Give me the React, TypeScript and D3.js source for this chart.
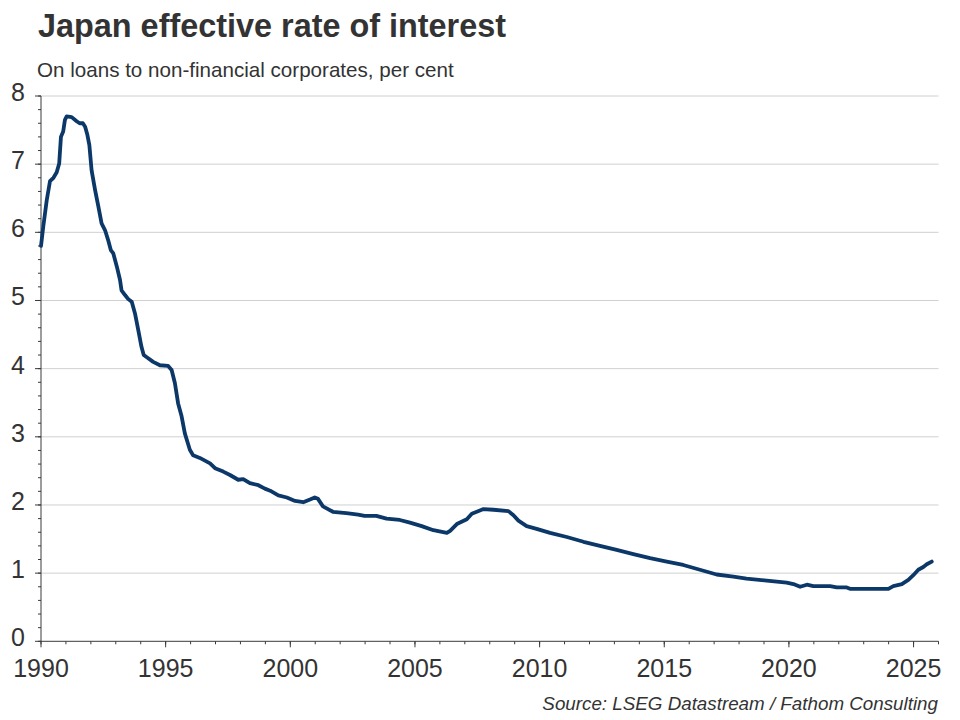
import React from "react";
import * as d3 from "d3";

const years: number[] = [
  1990.0, 1990.09, 1990.23, 1990.36, 1990.5, 1990.63, 1990.73, 1990.8, 1990.89, 1990.96,
  1991.03, 1991.23, 1991.43, 1991.55, 1991.68, 1991.77, 1991.86, 1991.94, 1992.03, 1992.17,
  1992.3, 1992.43, 1992.57, 1992.69, 1992.8, 1992.9, 1993.04, 1993.17, 1993.23, 1993.37,
  1993.5, 1993.64, 1993.77, 1993.9, 1994.03, 1994.12, 1994.23, 1994.5, 1994.77, 1995.1,
  1995.24, 1995.37, 1995.5, 1995.64, 1995.77, 1995.97, 1996.1, 1996.37, 1996.78, 1996.98,
  1997.31, 1997.58, 1997.91, 1998.11, 1998.38, 1998.72, 1998.98, 1999.19, 1999.52, 1999.86,
  2000.19, 2000.52, 2000.79, 2000.98, 2001.11, 2001.31, 2001.71, 2002.25, 2002.72, 2002.98,
  2003.45, 2003.86, 2004.39, 2004.8, 2005.27, 2005.74, 2006.28, 2006.41, 2006.68, 2007.08,
  2007.28, 2007.75, 2008.15, 2008.75, 2008.95, 2009.15, 2009.48, 2009.88, 2010.42, 2011.09,
  2011.76, 2012.42, 2013.09, 2013.76, 2014.43, 2015.1, 2015.76, 2016.43, 2017.1, 2017.77,
  2018.3, 2019.11, 2019.91, 2020.18, 2020.45, 2020.72, 2020.98, 2021.65, 2021.92, 2022.32,
  2022.45, 2023.12, 2023.99, 2024.19, 2024.53, 2024.79, 2024.99, 2025.19, 2025.39, 2025.53,
  2025.73,
];

const rates: number[] = [
  5.8, 6.08, 6.47, 6.75, 6.8, 6.88, 7.01, 7.4, 7.48, 7.65,
  7.7, 7.69, 7.63, 7.6, 7.6, 7.55, 7.43, 7.28, 6.91, 6.62,
  6.38, 6.13, 6.03, 5.89, 5.74, 5.69, 5.5, 5.3, 5.15, 5.08,
  5.02, 4.98, 4.81, 4.57, 4.32, 4.2, 4.17, 4.1, 4.05, 4.04,
  3.98, 3.79, 3.49, 3.3, 3.05, 2.81, 2.73, 2.69, 2.61, 2.54,
  2.49, 2.44, 2.37, 2.38, 2.32, 2.29, 2.24, 2.21, 2.14, 2.11,
  2.06, 2.04, 2.08, 2.11, 2.09, 1.98, 1.9, 1.88, 1.86, 1.84,
  1.84, 1.8, 1.78, 1.74, 1.69, 1.63, 1.59, 1.62, 1.72, 1.79,
  1.87, 1.94, 1.93, 1.91, 1.85, 1.77, 1.69, 1.65, 1.59, 1.53,
  1.46, 1.4, 1.34, 1.28, 1.22, 1.17, 1.12, 1.05, 0.98, 0.95,
  0.92, 0.89, 0.86, 0.84, 0.8, 0.83, 0.81, 0.81, 0.79, 0.79,
  0.77, 0.77, 0.77, 0.81, 0.84, 0.9, 0.97, 1.05, 1.09, 1.13,
  1.17,
];

const yMajorTicks: number[] = [0, 1, 2, 3, 4, 5, 6, 7, 8];
const xMajorTicks: number[] = [1990, 1995, 2000, 2005, 2010, 2015, 2020, 2025];

const title = "Japan effective rate of interest";
const subtitle = "On loans to non-financial corporates, per cent";
const source = "Source: LSEG Datastream / Fathom Consulting";

export default function App() {
  const W = 960;
  const H = 720;
  const x = d3.scaleLinear().domain([1990, 2026]).range([41, 938.5]);
  const y = d3.scaleLinear().domain([0, 8]).range([641.3, 96]);

  const yMinor = d3.range(0, 8.0001, 0.2);
  const xMinor = d3.range(1990, 2027, 1);

  const pts: [number, number][] = years.map((yr, i) => [yr, rates[i]]);
  const line = d3
    .line<[number, number]>()
    .x((d) => x(d[0]))
    .y((d) => y(d[1]));

  const font = "'Liberation Sans', Arial, sans-serif";
  const textColor = "#333333";
  const axisColor = "#3a3a3a";

  return (
    <div style={{ position: "absolute", left: 0, top: 0 }}>
      <svg width={W} height={H} style={{ display: "block", background: "#fff" }} fontFamily={font}>
        <rect x={0} y={0} width={W} height={H} fill="#fff" />
        <text x={38} y={37} fontSize={32.4} fontWeight="bold" fill={textColor}>
          {title}
        </text>
        <text x={37} y={77} fontSize={20.6} fill={textColor}>
          {subtitle}
        </text>

        {yMajorTicks
          .filter((t) => t > 0)
          .map((t) => (
            <line
              key={"g" + t}
              x1={x(1990)}
              x2={x(2026)}
              y1={y(t)}
              y2={y(t)}
              stroke="#d0d0d0"
              strokeWidth={1}
            />
          ))}

        {yMinor.map((t, i) => (
          <line
            key={"ym" + i}
            x1={x(1990) - 3}
            x2={x(1990)}
            y1={y(t)}
            y2={y(t)}
            stroke={axisColor}
            strokeWidth={1}
          />
        ))}
        {yMajorTicks.map((t) => (
          <line
            key={"yM" + t}
            x1={x(1990) - 6}
            x2={x(1990)}
            y1={y(t)}
            y2={y(t)}
            stroke={axisColor}
            strokeWidth={1}
          />
        ))}
        {yMajorTicks.map((t) => (
          <text
            key={"yl" + t}
            x={25}
            y={y(t) + 5}
            fontSize={25}
            textAnchor="end"
            fill={textColor}
          >
            {t}
          </text>
        ))}

        {xMinor.map((t) => (
          <line
            key={"xm" + t}
            x1={x(t)}
            x2={x(t)}
            y1={y(0)}
            y2={y(0) + 3}
            stroke={axisColor}
            strokeWidth={1}
          />
        ))}
        {xMajorTicks.map((t) => (
          <line
            key={"xM" + t}
            x1={x(t)}
            x2={x(t)}
            y1={y(0)}
            y2={y(0) + 6}
            stroke={axisColor}
            strokeWidth={1}
          />
        ))}
        {xMajorTicks.map((t) => (
          <text
            key={"xl" + t}
            x={x(t)}
            y={677}
            fontSize={25}
            textAnchor="middle"
            fill={textColor}
          >
            {t}
          </text>
        ))}

        <line x1={x(1990)} x2={x(1990)} y1={y(8)} y2={y(0)} stroke={axisColor} strokeWidth={1} />
        <line x1={x(1990)} x2={x(2026)} y1={y(0)} y2={y(0)} stroke={axisColor} strokeWidth={1} />

        <path
          d={line(pts) || ""}
          fill="none"
          stroke="#0b3868"
          strokeWidth={3.8}
          strokeLinejoin="round"
          strokeLinecap="round"
        />

        <text
          x={938}
          y={710}
          fontSize={18.8}
          fontStyle="italic"
          textAnchor="end"
          fill={textColor}
        >
          {source}
        </text>
      </svg>
    </div>
  );
}
